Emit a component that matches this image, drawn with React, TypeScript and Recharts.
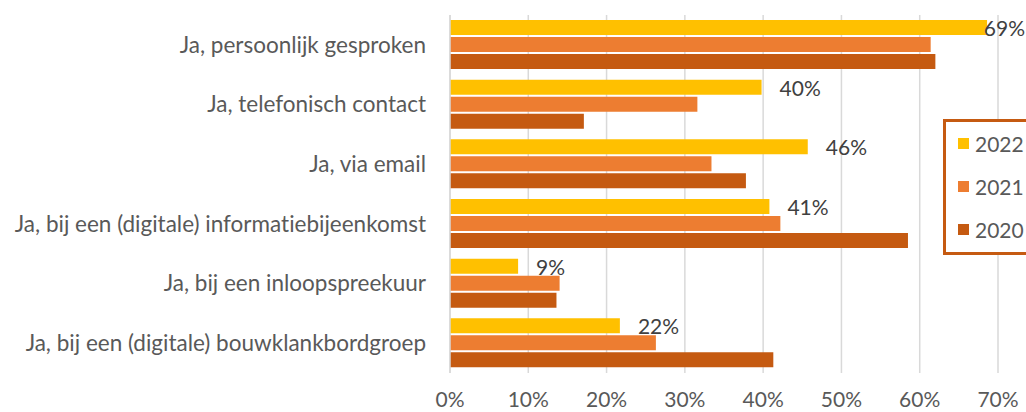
import React from "react";
import { BarChart, Bar, XAxis, YAxis, CartesianGrid, Legend } from "recharts";

const CATEGORIES = [
  "Ja, persoonlijk gesproken",
  "Ja, telefonisch contact",
  "Ja, via email",
  "Ja, bij een (digitale) informatiebijeenkomst",
  "Ja, bij een inloopspreekuur",
  "Ja, bij een (digitale) bouwklankbordgroep",
];
const VALUES_2022 = [68.6, 39.8, 45.7, 40.8, 8.7, 21.7];
const VALUES_2021 = [61.4, 31.6, 33.4, 42.2, 14.0, 26.3];
const VALUES_2020 = [62.0, 17.1, 37.8, 58.5, 13.6, 41.3];
const SERIES_NAMES = ["2022", "2021", "2020"];
const X_TICKS = [0, 10, 20, 30, 40, 50, 60, 70];

const CHART_W = 1026;
const CHART_H = 412;
const FONT = "Lato, 'Noto Sans', sans-serif";
const COLORS = ["#FFC000", "#ED7D31", "#C55A11"];
const TEXT = "#595959";
const FS = 21;
const CAT_FS = 22.5;
const NO_LIG = { fontVariantLigatures: "none" as const };

const data = CATEGORIES.map((category, i) => ({
  category,
  s2022: VALUES_2022[i],
  s2021: VALUES_2021[i],
  s2020: VALUES_2020[i],
}));

const renderLabel = (props: any) => {
  const { x, y, width, height, value } = props;
  const text = `${Math.round(Number(value))}%`;
  const w = text.length * FS * 0.6;
  const start = Number(x) + Number(width) + 18;
  const overflow = start + w > CHART_W - 1;
  return (
    <text
      x={overflow ? CHART_W - 1 : start}
      y={Number(y) + Number(height) / 2}
      textAnchor={overflow ? "end" : "start"}
      dominantBaseline="central"
      fill="#404040"
      fontSize={FS}
      fontFamily={FONT}
    >
      {text}
    </text>
  );
};

const renderLegend = (props: any) => {
  const payload = [...(props.payload || [])].sort(
    (a: any, b: any) => SERIES_NAMES.indexOf(a.value) - SERIES_NAMES.indexOf(b.value)
  );
  return (
    <div
      style={{
        border: "3px solid #C55A11",
        background: "#fff",
        width: 100,
        height: 136,
        boxSizing: "border-box",
        paddingTop: 0,
        fontFamily: FONT,
      }}
    >
      {payload.map((entry: any) => (
        <div
          key={entry.value}
          style={{ display: "flex", alignItems: "center", height: 43, paddingLeft: 12 }}
        >
          <span
            style={{ display: "inline-block", width: 11, height: 11, background: entry.color, marginRight: 6 }}
          />
          <span style={{ fontSize: FS, color: TEXT, lineHeight: 1 }}>{entry.value}</span>
        </div>
      ))}
    </div>
  );
};

export default function App() {
  return (
    <div style={{ position: "absolute", left: 0, top: 0, width: CHART_W, height: CHART_H, overflow: "hidden", background: "#fff" }}>
      <BarChart
        width={CHART_W}
        height={CHART_H}
        data={data}
        layout="vertical"
        margin={{ top: 15, right: 28, bottom: 0, left: 0 }}
        barCategoryGap={5}
        barGap={2}
      >
        <CartesianGrid horizontal={false} stroke="#D9D9D9" strokeWidth={1.5} />
        <XAxis
          type="number"
          domain={[0, 70]}
          ticks={X_TICKS}
          tickFormatter={(v: number) => `${v}%`}
          axisLine={false}
          tickLine={false}
          tickSize={0}
          tickMargin={19}
          height={39}
          interval={0}
          tick={{ fill: TEXT, fontSize: FS, fontFamily: FONT }}
        />
        <YAxis
          type="category"
          dataKey="category"
          width={450}
          axisLine={{ stroke: "#D9D9D9", strokeWidth: 1.5 }}
          tickLine={false}
          tickSize={0}
          tickMargin={24}
          interval={0}
          tick={{ fill: TEXT, fontSize: CAT_FS, fontFamily: FONT, style: NO_LIG }}
        />
        <Legend
          layout="horizontal"
          verticalAlign="middle"
          align="center"
          content={renderLegend}
          wrapperStyle={{ left: 943, top: 119, width: 100, height: 136 }}
        />
        <Bar dataKey="s2022" name={SERIES_NAMES[0]} fill={COLORS[0]} isAnimationActive={false} label={renderLabel} />
        <Bar dataKey="s2021" name={SERIES_NAMES[1]} fill={COLORS[1]} isAnimationActive={false} />
        <Bar dataKey="s2020" name={SERIES_NAMES[2]} fill={COLORS[2]} isAnimationActive={false} />
      </BarChart>
    </div>
  );
}
